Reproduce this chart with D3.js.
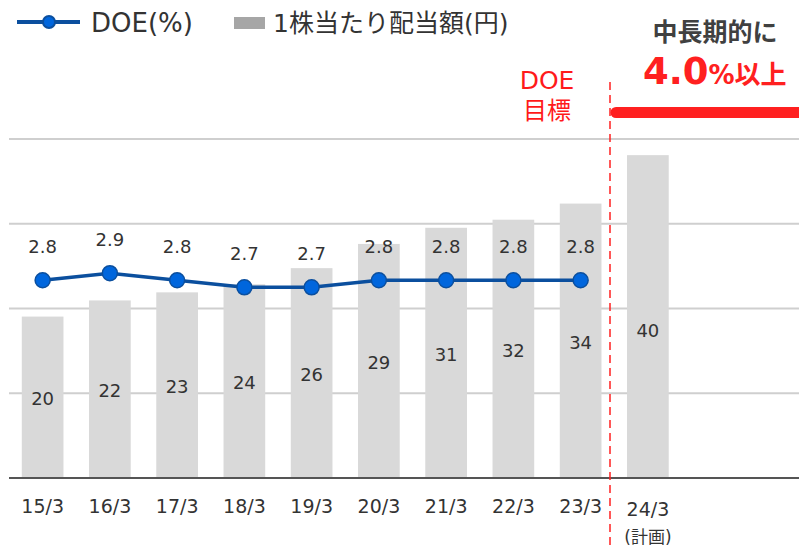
<!DOCTYPE html>
<html lang="ja">
<head>
    <meta charset="UTF-8">
    <title>DOE chart</title>
    <style>
        body { margin: 0; background: #fff; }
        svg text { font-family: "DejaVu Sans", "Noto Sans CJK JP", sans-serif; fill: #333; }
    </style>
</head>
<body>
    <svg id="chart" width="799" height="548"></svg>

<script src="https://cdn.jsdelivr.net/npm/d3@7/dist/d3.min.js"></script>
<script>
    // data
    let years = ["15/3", "16/3", "17/3", "18/3", "19/3", "20/3", "21/3", "22/3", "23/3", "24/3"]
    let dividend = [20, 22, 23, 24, 26, 29, 31, 32, 34, 40]
    let doe = [2.8, 2.9, 2.8, 2.7, 2.7, 2.8, 2.8, 2.8, 2.8]
    let doeYears = years.slice(0, 9)

    let svg = d3.select("#chart")
    let plotTop = 139, plotBottom = 478, plotLeft = 9, plotRight = 799

    let x = d3.scaleBand().domain(years).range([plotLeft, 681.5])
        .paddingInner(0.38).paddingOuter(0.19)
    let yBar = d3.scaleLinear().domain([0, 42]).range([plotBottom, plotTop])
    let yDoe = d3.scaleLinear().domain([0, 4.8]).range([plotBottom, plotTop])

    // gridlines
    let grid = d3.range(1, 5).map(i => i * 42 / 4)
    svg.append("g").selectAll("line").data(grid).enter().append("line")
        .attr("x1", plotLeft).attr("x2", plotRight)
        .attr("y1", d => yBar(d)).attr("y2", d => yBar(d))
        .attr("stroke", "#cfcfcf").attr("stroke-width", 2)

    // bars
    svg.append("g").selectAll("rect").data(dividend).enter().append("rect")
        .attr("x", (d, i) => x(years[i]))
        .attr("width", x.bandwidth())
        .attr("y", d => yBar(d))
        .attr("height", d => plotBottom - yBar(d))
        .attr("fill", "#d9d9d9")

    svg.append("g").selectAll("text").data(dividend).enter().append("text")
        .attr("x", (d, i) => x(years[i]) + x.bandwidth() / 2)
        .attr("y", (d, i) => i == 9 ? (yBar(d) + plotBottom) / 2 + 20 : (yBar(d) + plotBottom) / 2 + 8)
        .attr("text-anchor", "middle")
        .attr("font-size", 18)
        .text(d => d)

    // x axis
    let xAxis = svg.append("g")
        .attr("transform", `translate(0,${plotBottom})`)
        .call(d3.axisBottom(x).tickSize(0).tickPadding(22))
    xAxis.select(".domain").remove()
    xAxis.selectAll("text").attr("font-size", 19).attr("fill", "#333")
        .style("font-family", "\"DejaVu Sans\", sans-serif")
    xAxis.selectAll(".tick").filter(d => d == "24/3").select("text").attr("y", 25)
    xAxis.selectAll(".tick").filter(d => d == "24/3").append("text")
        .attr("y", 65).attr("text-anchor", "middle")
        .attr("font-size", 17).attr("fill", "#333")
        .text("(計画)")

    svg.append("line")
        .attr("x1", plotLeft).attr("x2", plotRight)
        .attr("y1", plotBottom).attr("y2", plotBottom)
        .attr("stroke", "#555").attr("stroke-width", 2)

    // DOE line
    let cx = d => x(d) + x.bandwidth() / 2
    let line = d3.line().x((d, i) => cx(doeYears[i])).y(d => yDoe(d))
    svg.append("path").datum(doe)
        .attr("d", line)
        .attr("fill", "none")
        .attr("stroke", "#0b4f9e")
        .attr("stroke-width", 3.5)

    svg.append("g").selectAll("circle").data(doe).enter().append("circle")
        .attr("cx", (d, i) => cx(doeYears[i]))
        .attr("cy", d => yDoe(d))
        .attr("r", 7.5)
        .attr("fill", "#0066dd")
        .attr("stroke", "#0b4f9e")
        .attr("stroke-width", 1.5)

    svg.append("g").selectAll("text").data(doe).enter().append("text")
        .attr("x", (d, i) => cx(doeYears[i]))
        .attr("y", d => yDoe(d) - 27)
        .attr("text-anchor", "middle")
        .attr("font-size", 18)
        .text(d => d.toFixed(1))

    // target divider and annotation
    let divX = 610
    svg.append("line")
        .attr("x1", divX).attr("x2", divX)
        .attr("y1", 82).attr("y2", 548)
        .attr("stroke", "#ff2020").attr("stroke-width", 1.5)
        .attr("stroke-dasharray", "8,5")

    svg.append("line")
        .attr("x1", divX + 6).attr("x2", 810)
        .attr("y1", 112.5).attr("y2", 112.5)
        .attr("stroke", "#ff2020").attr("stroke-width", 11)
        .attr("stroke-linecap", "round")

    svg.append("text").attr("x", 547).attr("y", 89)
        .attr("text-anchor", "middle").attr("font-size", 25)
        .style("fill", "#ff1a1a").text("DOE")
    svg.append("text").attr("x", 547).attr("y", 119)
        .attr("text-anchor", "middle").attr("font-size", 24)
        .style("fill", "#ff1a1a").text("目標")

    svg.append("text").attr("x", 715).attr("y", 41)
        .attr("text-anchor", "middle").attr("font-size", 25)
        .attr("font-weight", "bold").style("fill", "#404040")
        .text("中長期的に")

    let goal = svg.append("text").attr("x", 643).attr("y", 84)
        .attr("font-weight", "bold").style("fill", "#ff2020")
    goal.append("tspan").attr("font-size", 37).style("fill", "#ff2020").text("4.0")
    goal.append("tspan").attr("font-size", 26).style("fill", "#ff2020").text("%以上")

    // legend
    let legend = svg.append("g")
    legend.append("line")
        .attr("x1", 17).attr("x2", 80).attr("y1", 22).attr("y2", 22)
        .attr("stroke", "#0b4f9e").attr("stroke-width", 4)
    legend.append("circle")
        .attr("cx", 49).attr("cy", 22).attr("r", 6)
        .attr("fill", "#0066dd").attr("stroke", "#0b4f9e").attr("stroke-width", 2)
    legend.append("text").attr("x", 91).attr("y", 32)
        .attr("font-size", 26).text("DOE(%)")
    legend.append("rect")
        .attr("x", 234).attr("y", 17).attr("width", 31).attr("height", 12)
        .attr("fill", "#a6a6a6")
    legend.append("text").attr("x", 273).attr("y", 32)
        .attr("font-size", 25).text("1株当たり配当額(円)")
</script>
</body>
</html>
